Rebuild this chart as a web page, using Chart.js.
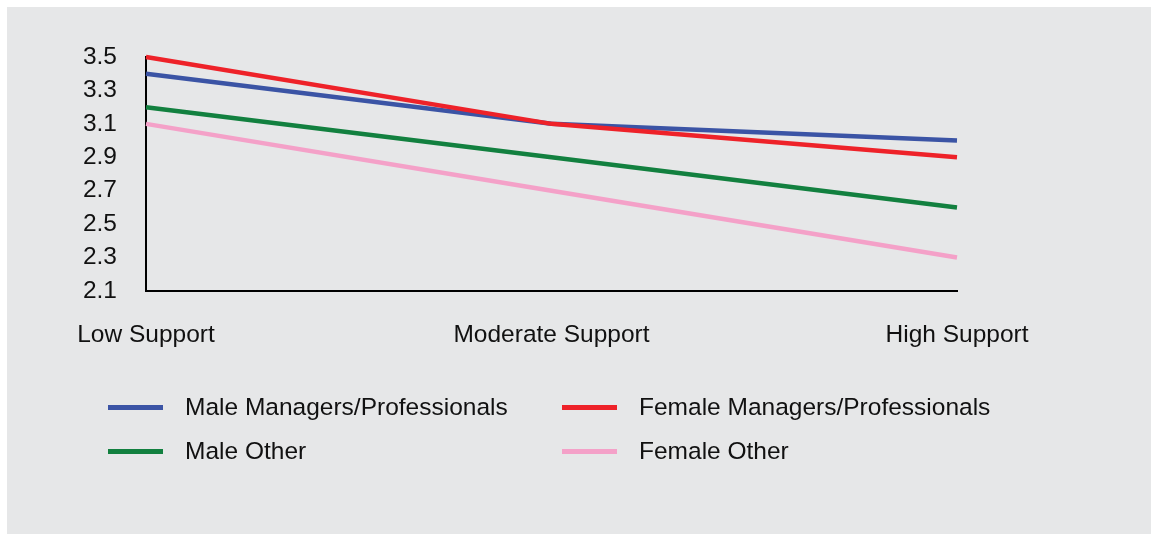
<!DOCTYPE html>
<html>
<head>
<meta charset="utf-8">
<script src="https://cdn.jsdelivr.net/npm/chart.js@4/dist/chart.umd.min.js"></script>
<style>
  html, body { margin: 0; padding: 0; background: #ffffff; }
  #wrap { position: relative; width: 1153px; height: 534px; overflow: hidden; }
  #panel { position: absolute; left: 7px; top: 7px; width: 1144px; height: 527px; background: #e6e7e8; }
  #c { position: absolute; left: 0; top: 0; }
  .lg { position: absolute; font-family: "Liberation Sans", Arial, sans-serif; font-size: 24.5px; color: #111111; white-space: nowrap; line-height: 28px; }
  .sw { position: absolute; height: 5px; }
</style>
</head>
<body>
<div id="wrap">
  <div id="panel"></div>
  <canvas id="c" width="1153" height="534"></canvas>
  <div id="legend"></div>
</div>
<script>
const categories = ["Low Support", "Moderate Support", "High Support"];
const seriesNames = ["Male Managers/Professionals", "Female Managers/Professionals", "Male Other", "Female Other"];
const maleManagers = [3.4, 3.1, 3.0];
const femaleManagers = [3.5, 3.1, 2.9];
const maleOther = [3.2, 2.9, 2.6];
const femaleOther = [3.1, 2.7, 2.3];
const yTicks = [2.1, 2.3, 2.5, 2.7, 2.9, 3.1, 3.3, 3.5];
const colors = ["#3b54a5", "#ee2229", "#12803f", "#f4a1c8"];
const seriesValues = [maleManagers, femaleManagers, maleOther, femaleOther];

const font = { family: '"Liberation Sans", Arial, sans-serif', size: 24.5 };

const datasets = seriesNames.map((n, i) => ({
  label: n,
  data: seriesValues[i],
  borderColor: colors[i],
  backgroundColor: colors[i],
  borderWidth: 4.5,
  pointRadius: 0,
  tension: 0,
  fill: false,
  clip: false
}));
// draw order: pink, green, blue, red on top
const order = [2, 0, 3, 1];
datasets.forEach((d, i) => d.order = order[i]);

new Chart(document.getElementById('c'), {
  type: 'line',
  data: { labels: categories, datasets },
  options: {
    responsive: false,
    animation: false,
    layout: { padding: { left: 0, top: 57, right: 196, bottom: 180 } },
    plugins: { legend: { display: false }, tooltip: { enabled: false } },
    scales: {
      x: {
        offset: false,
        grid: { display: false, drawTicks: false },
        border: { display: true, color: '#000000', width: 2 },
        ticks: { color: '#111111', font, padding: 30, maxRotation: 0, autoSkip: false },
        afterFit: s => { s.height = 534 - 180 - 291; }
      },
      y: {
        min: 2.1, max: 3.5,
        grid: { display: false, drawTicks: false },
        border: { display: true, color: '#000000', width: 2 },
        afterBuildTicks: s => { s.ticks = yTicks.map(v => ({ value: v })); },
        ticks: { color: '#111111', font, padding: 29, callback: v => Number(v).toFixed(1) },
        afterFit: s => { s.width = 146; }
      }
    }
  }
});

// legend
const lg = document.getElementById('legend');
const pos = [
  { lx: 108, tx: 185, y: 407 },
  { lx: 562, tx: 639, y: 407 },
  { lx: 108, tx: 185, y: 451 },
  { lx: 562, tx: 639, y: 451 }
];
datasets.forEach((d, i) => {
  const p = pos[i];
  const sw = document.createElement('div');
  sw.className = 'sw';
  sw.style.left = p.lx + 'px';
  sw.style.width = '55px';
  sw.style.top = (p.y - 2) + 'px';
  sw.style.background = d.borderColor;
  lg.appendChild(sw);
  const t = document.createElement('div');
  t.className = 'lg';
  t.style.left = p.tx + 'px';
  t.style.top = (p.y - 14) + 'px';
  t.textContent = d.label;
  lg.appendChild(t);
});
</script>
</body>
</html>
